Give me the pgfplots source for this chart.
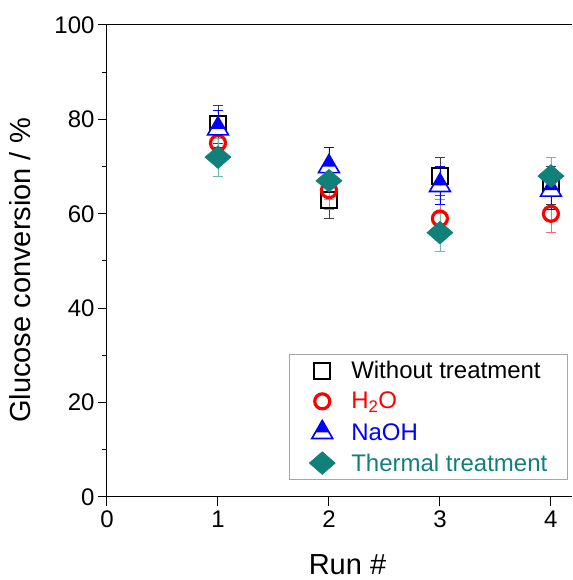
\documentclass[border=0pt]{standalone}
\usepackage{pgfplots}
\pgfplotsset{compat=1.18}
\usepackage{fontspec}
\setmainfont{Liberation Sans}
\definecolor{teal1}{RGB}{18,128,122}
\definecolor{tealbar}{RGB}{110,185,180}
\definecolor{redbar}{RGB}{240,110,110}
\pgfdeclareplotmark{halftri}{%
  \begin{pgfscope}%
  \pgfsetfillcolor{white}%
  \pgfpathmoveto{\pgfqpoint{-0.577\pgfplotmarksize}{0pt}}%
  \pgfpathlineto{\pgfqpoint{0.577\pgfplotmarksize}{0pt}}%
  \pgfpathlineto{\pgfqpoint{0.866\pgfplotmarksize}{-0.5\pgfplotmarksize}}%
  \pgfpathlineto{\pgfqpoint{-0.866\pgfplotmarksize}{-0.5\pgfplotmarksize}}%
  \pgfpathclose
  \pgfusepathqfill
  \end{pgfscope}%
  \pgfpathmoveto{\pgfqpoint{0pt}{\pgfplotmarksize}}%
  \pgfpathlineto{\pgfqpoint{0.577\pgfplotmarksize}{0pt}}%
  \pgfpathlineto{\pgfqpoint{-0.577\pgfplotmarksize}{0pt}}%
  \pgfpathclose
  \pgfusepathqfill
  \pgfpathmoveto{\pgfqpoint{0pt}{\pgfplotmarksize}}%
  \pgfpathlineto{\pgfqpoint{-0.866\pgfplotmarksize}{-0.5\pgfplotmarksize}}%
  \pgfpathlineto{\pgfqpoint{0.866\pgfplotmarksize}{-0.5\pgfplotmarksize}}%
  \pgfpathclose
  \pgfusepathqstroke
}
\pgfdeclareplotmark{wdiamond}{%
  \pgfpathmoveto{\pgfqpoint{0pt}{0.87\pgfplotmarksize}}%
  \pgfpathlineto{\pgfqpoint{\pgfplotmarksize}{0pt}}%
  \pgfpathlineto{\pgfqpoint{0pt}{-0.87\pgfplotmarksize}}%
  \pgfpathlineto{\pgfqpoint{-\pgfplotmarksize}{0pt}}%
  \pgfpathclose
  \pgfusepathqfillstroke
}
\begin{document}
\begin{tikzpicture}
\begin{axis}[
  name=ax,
  scale only axis,
  width=465pt, height=472pt,
  xmin=0, xmax=4.19, ymin=0, ymax=100,
  axis lines=left,
  axis line style={-, line width=1pt},
  xtick={0,1,2,3,4},
  ytick={0,20,40,60,80,100},
  minor y tick num=1,
  tick align=outside,
  major tick length=9pt,
  minor tick length=5pt,
  tick style={line width=1pt, black},
  /pgf/number format/assume math mode=true,
  tick label style={font=\fontsize{24}{28}\selectfont},
  xticklabel style={yshift=-1pt},
  xlabel={Run \#},
  ylabel={Glucose conversion / \%},
  label style={font=\fontsize{29}{33}\selectfont},
  xlabel style={xshift=8pt},
  xlabel shift=20pt,
  ylabel shift=17pt,
  ylabel style={at={(ticklabel cs:0.48)}},
  clip=false,
  legend style={
    at={(0.991,0.036)}, anchor=south east,
    draw=gray!70, line width=1pt,
    font=\fontsize{24}{28}\selectfont,
    cells={anchor=west},
    inner xsep=18pt, inner ysep=5pt,
    row sep=8pt,
    /tikz/every odd column/.append style={column sep=12pt},
  },
  legend image code/.code={\path[draw=none,fill=none] (0pt,0pt) -- (30pt,0pt); \draw[#1] plot[only marks] coordinates {(15pt,0pt)};},
]
\draw[line width=1pt] (rel axis cs:0,1) -- (rel axis cs:1,1);
\addplot[only marks, mark=square, mark size=8pt, line width=2pt, black,
  error bars/.cd, y dir=both, y explicit,
  error bar style={line width=0.8pt, black!75},
  error mark options={rotate=90, mark size=5pt, line width=0.8pt, black!75}]
coordinates {(1,79) +- (0,4) (2,63) +- (0,4) (3,68) +- (0,4) (4,66) +- (0,4)};
\addlegendentry{Without treatment}
\addplot[only marks, mark=o, mark size=7.5pt, line width=3.2pt, red,
  error bars/.cd, y dir=both, y explicit,
  error bar style={line width=0.8pt, redbar},
  error mark options={rotate=90, mark size=5pt, line width=0.8pt, redbar}]
coordinates {(1,75) +- (0,4) (2,65) +- (0,4) (3,59) +- (0,4) (4,60) +- (0,4)};
\addlegendentry{\textcolor{red}{H\textsubscript{2}O}}
\addplot[only marks, mark=halftri, mark size=12pt, line width=1.6pt, blue, fill=blue,
  error bars/.cd, y dir=both, y explicit,
  error bar style={line width=0.8pt, blue},
  error mark options={rotate=90, mark size=5pt, line width=0.8pt, blue}]
coordinates {(1,78) +- (0,4) (2,70) +- (0,4) (3,66) +- (0,4) (4,65) +- (0,4)};
\addlegendentry{\textcolor{blue}{NaOH}}
\addplot[only marks, mark=wdiamond, mark size=13pt, line width=0.6pt, teal1, fill=teal1,
  error bars/.cd, y dir=both, y explicit,
  error bar style={line width=0.8pt, tealbar},
  error mark options={rotate=90, mark size=5pt, line width=0.8pt, tealbar}]
coordinates {(1,72) +- (0,4) (2,67) +- (0,4) (3,56) +- (0,4) (4,68) +- (0,4)};
\addlegendentry{\textcolor{teal1}{Thermal treatment}}
\end{axis}
\pgfresetboundingbox
\path ([xshift=-107pt,yshift=25pt]ax.north west) rectangle ([yshift=-83pt]ax.south east);
\end{tikzpicture}
\end{document}
